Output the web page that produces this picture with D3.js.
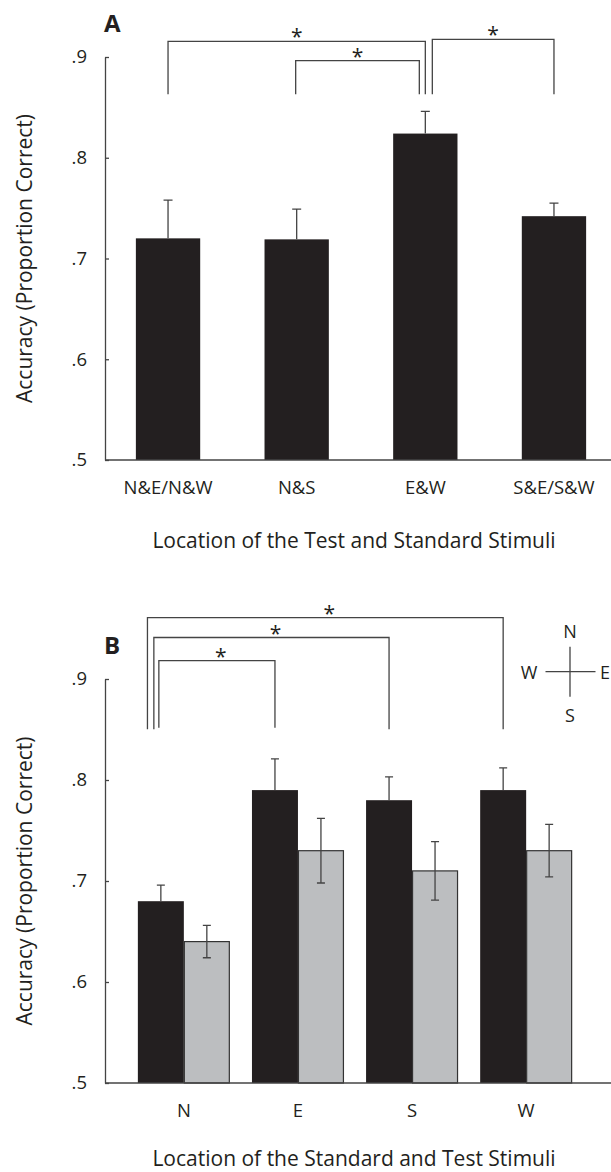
<!DOCTYPE html>
<html><head><meta charset="utf-8">
<script src="https://cdn.jsdelivr.net/npm/d3@7"></script>
<style>body{margin:0;background:#fff} svg{display:block}</style>
</head><body>
<svg id="chart" width="611" height="1172"></svg>
<script>
// ---------- Data ----------
const yTicks = [0.5, 0.6, 0.7, 0.8, 0.9];
const yTickLabels = [".5", ".6", ".7", ".8", ".9"];

// Panel A
const catsA = ["N&E/N&W", "N&S", "E&W", "S&E/S&W"];
const valuesA = [0.720, 0.719, 0.824, 0.742];
const errUpperA = [0.758, 0.749, 0.846, 0.755];
const sigPairsA = [["N&E/N&W", "E&W"], ["N&S", "E&W"], ["E&W", "S&E/S&W"]];

// Panel B
const catsB = ["N", "E", "S", "W"];
const seriesB = ["Series 1", "Series 2"];
const valuesB1 = [0.68, 0.79, 0.78, 0.79];
const errUpperB1 = [0.696, 0.821, 0.803, 0.812];
const valuesB2 = [0.64, 0.73, 0.71, 0.73];
const errUpperB2 = [0.656, 0.762, 0.739, 0.756];
const errLowerB2 = [0.624, 0.698, 0.681, 0.704];
const sigPairsB = [["N", "W"], ["N", "S"], ["N", "E"]];

// ---------- Styles ----------
const FONT = "'Open Sans', 'Noto Sans', sans-serif";
const BLACK = "#231f20", GRAY = "#bcbec0", LINE = "#444", TXT = "#231f20";
const W = 611;

const svg = d3.select("#chart");

function yAxis(g, y) {
  const ax = d3.axisLeft(y).tickValues(yTicks)
    .tickFormat((d, i) => yTickLabels[i]).tickSizeInner(-4).tickSizeOuter(0).tickPadding(18);
  g.call(ax);
  g.select(".domain").attr("stroke", LINE).attr("stroke-width", 1.3);
  g.selectAll(".tick line").attr("stroke", LINE).attr("stroke-width", 1.3);
  g.selectAll(".tick text").attr("font-family", FONT).attr("font-size", 18.5).attr("fill", TXT);
}

function xAxis(g, x) {
  const ax = d3.axisBottom(x).tickSize(0).tickPadding(21);
  g.call(ax);
  g.select(".domain").remove();
  g.selectAll(".tick text").attr("font-family", FONT).attr("font-size", 18.5).attr("fill", TXT);
}

function bracket(g, x1, x2, yTop, yBot, starX) {
  g.append("path")
    .attr("d", `M${x1},${yBot}V${yTop}H${x2}V${yBot}`)
    .attr("fill", "none").attr("stroke", LINE).attr("stroke-width", 1.3);
  g.append("text").attr("x", starX).attr("y", yTop + 3)
    .attr("text-anchor", "middle").attr("font-family", FONT).attr("font-size", 21)
    .attr("fill", TXT).text("*");
}

// ---------- Panel A ----------
{
  const y = d3.scaleLinear().domain([0.5, 0.9]).range([460, 57]);
  const x = d3.scaleBand().domain(catsA).range([105, 617]).paddingInner(0.5).paddingOuter(0.24);
  const g = svg.append("g");

  g.selectAll("rect.bar").data(catsA).join("rect")
    .attr("x", d => x(d)).attr("width", x.bandwidth())
    .attr("y", (d, i) => y(valuesA[i])).attr("height", (d, i) => y(0.5) - y(valuesA[i]))
    .attr("fill", BLACK);
  const cx = d => x(d) + x.bandwidth() / 2;
  g.selectAll("path.err").data(catsA).join("path")
    .attr("d", (d, i) => `M${cx(d)},${y(valuesA[i])}V${y(errUpperA[i])}M${cx(d) - 4.5},${y(errUpperA[i])}h9`)
    .attr("stroke", LINE).attr("stroke-width", 1.3).attr("fill", "none");

  const gy = g.append("g").attr("transform", "translate(105,0)");
  yAxis(gy, y);
  g.append("line").attr("x1", 105).attr("x2", W + 10).attr("y1", y(0.5)).attr("y2", y(0.5))
    .attr("stroke", LINE).attr("stroke-width", 1.3);
  const gx = g.append("g").attr("transform", `translate(0,${y(0.5)})`);
  xAxis(gx, x);

  const tops = [41.3, 60.7, 39.3];
  const offs = [[0, 0], [-1, -6], [7, 0]];
  sigPairsA.forEach((p, k) => {
    const x1 = cx(p[0]) + offs[k][0], x2 = cx(p[1]) + offs[k][1];
    bracket(g, x1, x2, tops[k], 94.3, (x1 + x2) / 2);
  });

  g.append("text").attr("x", 104).attr("y", 32).attr("font-family", FONT)
    .attr("font-weight", "bold").attr("font-size", 24).attr("fill", TXT).text("A");
  g.append("text").attr("transform", `translate(32,${(y(0.5) + y(0.9)) / 2}) rotate(-90)`)
    .attr("text-anchor", "middle").attr("font-family", FONT).attr("font-size", 21)
    .attr("fill", TXT).text("Accuracy (Proportion Correct)");
  g.append("text").attr("x", 354).attr("y", 548).attr("text-anchor", "middle")
    .attr("font-family", FONT).attr("font-size", 21).attr("fill", TXT)
    .text("Location of the Test and Standard Stimuli");
}

// ---------- Panel B ----------
{
  const y = d3.scaleLinear().domain([0.5, 0.9]).range([1083, 679]);
  const x = d3.scaleBand().domain(catsB).range([105, 605]).paddingInner(0.194).paddingOuter(0.288);
  const xs = d3.scaleBand().domain(seriesB).range([0, x.bandwidth()]);
  const g = svg.append("g");

  const rows = catsB.map((c, i) => [
    { cat: c, s: seriesB[0], v: valuesB1[i], hi: errUpperB1[i], lo: null },
    { cat: c, s: seriesB[1], v: valuesB2[i], hi: errUpperB2[i], lo: errLowerB2[i] }
  ]).flat();

  g.selectAll("rect.bar").data(rows).join("rect")
    .attr("x", d => x(d.cat) + xs(d.s) + (d.s === seriesB[1] ? 0.5 : 0))
    .attr("width", d => xs.bandwidth() - (d.s === seriesB[1] ? 1 : 0))
    .attr("y", d => y(d.v)).attr("height", d => y(0.5) - y(d.v))
    .attr("fill", d => d.s === seriesB[0] ? BLACK : GRAY)
    .attr("stroke", d => d.s === seriesB[0] ? "none" : "#333")
    .attr("stroke-width", 1.2);

  const cxs = d => x(d.cat) + xs(d.s) + xs.bandwidth() / 2;
  g.selectAll("path.err").data(rows).join("path")
    .attr("d", d => {
      const c = cxs(d);
      const lo = d.lo === null ? d.v : d.lo;
      let p = `M${c},${y(lo)}V${y(d.hi)}M${c - 4},${y(d.hi)}h8`;
      if (d.lo !== null) p += `M${c - 4},${y(d.lo)}h8`;
      return p;
    })
    .attr("stroke", LINE).attr("stroke-width", 1.3).attr("fill", "none");

  const gy = g.append("g").attr("transform", "translate(105,0)");
  yAxis(gy, y);
  g.append("line").attr("x1", 105).attr("x2", W + 10).attr("y1", y(0.5)).attr("y2", y(0.5))
    .attr("stroke", LINE).attr("stroke-width", 1.3);
  const gx = g.append("g").attr("transform", `translate(0,${y(0.5)})`);
  xAxis(gx, x);

  const bc = c => x(c) + xs(seriesB[0]) + xs.bandwidth() / 2;
  const tops = [617.7, 637.5, 660.7];
  const leftOffs = [-13.4, -7, -2];
  const bots = [729.3, 729.3, 727.7];
  sigPairsB.forEach((p, k) => {
    const x1 = bc(p[0]) + leftOffs[k], x2 = bc(p[1]);
    bracket(g, x1, x2, tops[k], bots[k], (x1 + x2) / 2 + 4);
  });

  // compass
  const cX = 570, cY = 671.7;
  g.append("path").attr("d", `M${cX - 24.5},${cY}H${cX + 25.5}M${cX},${cY - 25}V${cY + 25}`)
    .attr("stroke", LINE).attr("stroke-width", 1.3).attr("fill", "none");
  const comp = [["N", cX, cY - 34, "middle"], ["S", cX, cY + 50, "middle"],
                ["W", cX - 41, cY + 7, "middle"], ["E", 610, cY + 7, "end"]];
  comp.forEach(([t, px, py, a]) => g.append("text").attr("x", px).attr("y", py).attr("text-anchor", a)
    .attr("font-family", FONT).attr("font-size", 18).attr("fill", TXT).text(t));

  g.append("text").attr("x", 104).attr("y", 654).attr("font-family", FONT)
    .attr("font-weight", "bold").attr("font-size", 24).attr("fill", TXT).text("B");
  g.append("text").attr("transform", `translate(32,${(y(0.5) + y(0.9)) / 2}) rotate(-90)`)
    .attr("text-anchor", "middle").attr("font-family", FONT).attr("font-size", 21)
    .attr("fill", TXT).text("Accuracy (Proportion Correct)");
  g.append("text").attr("x", 354).attr("y", 1166).attr("text-anchor", "middle")
    .attr("font-family", FONT).attr("font-size", 21).attr("fill", TXT)
    .text("Location of the Standard and Test Stimuli");
}
</script>
</body></html>
